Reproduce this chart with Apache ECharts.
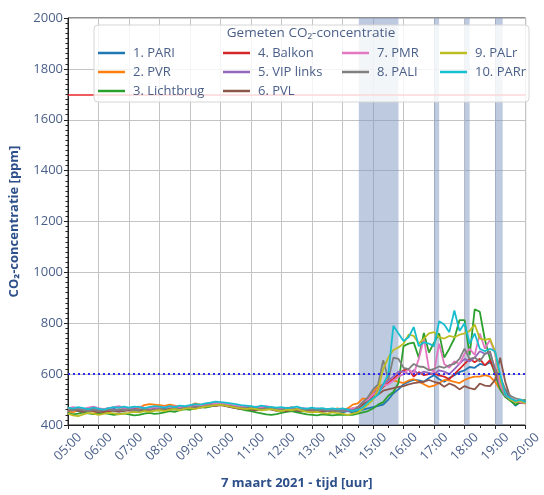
<!DOCTYPE html>
<html>
<head>
<meta charset="utf-8">
<script src="https://cdn.jsdelivr.net/npm/echarts@6/dist/echarts.min.js"></script>
<style>
html,body{margin:0;padding:0;background:#fff;}
#chart{width:544px;height:495px;}
</style>
</head>
<body>
<div id="chart"></div>
<script>
// ---- data (10-minute samples from 05:00 to 20:00) ----
const startMinute = 5 * 60;
const stepMinutes = 10;

const seriesNames = ["1. PARI","2. PVR","3. Lichtbrug","4. Balkon","5. VIP links","6. PVL","7. PMR","8. PALI","9. PALr","10. PARr"];
const seriesColors = ["#1f77b4","#ff7f0e","#2ca02c","#d62728","#9467bd","#8c564b","#e377c2","#7f7f7f","#bcbd22","#17becf"];

const pari = [
 462,458,465,460,455,458, 452,455,460,463,458,460, 462,458,455,460,465,462, 460,465,468,462,470,466,
 468,472,470,475,480,478, 482,478,475,470,472,468, 465,462,468,470,466,460, 458,462,460,455,458,462,
 460,456,452,455,458,454,
 450,455,450,455,460,465, 470,475,480,500,525,540,
 560,570,577,575,570,585, 596,580,570,585,596,608, 615,628,625,640,635,647, 621,560,540,500,476,490, 495];
const pvr = [
 455,450,458,462,457,453, 450,455,452,458,460,462, 465,460,468,478,482,480, 478,475,480,476,472,470,
 475,485,480,478,482,486, 484,480,476,472,468,465, 462,466,470,468,465,460, 462,458,455,460,465,460,
 455,458,460,462,458,465,
 460,465,480,485,505,500, 530,550,560,580,575,570,
 565,575,580,570,560,550, 555,565,577,575,570,565, 577,585,590,590,596,590, 570,540,515,506,495,494, 490];
const lichtbrug = [
 448,442,445,450,446,443, 445,448,444,440,443,446, 442,438,440,445,448,444, 446,450,455,452,458,462,
 460,465,470,468,472,478, 482,476,470,466,462,458, 455,450,446,442,440,443, 448,452,455,450,446,442,
 440,438,442,440,438,440,
 440,440,440,445,450,455, 465,480,490,515,530,565,
 710,720,724,665,762,685, 724,760,665,700,740,812, 812,675,855,845,735,660, 600,540,510,495,480,490, 500];
const balkon = [
 460,465,462,458,460,463, 457,452,455,460,458,456, 460,463,458,455,460,462, 465,460,463,467,462,465,
 470,468,472,475,478,482, 480,476,472,468,470,465, 462,467,470,465,462,460, 463,458,460,462,456,460,
 462,458,455,460,456,458,
 455,460,455,465,480,495, 515,530,550,565,580,600,
 615,620,590,608,596,600, 603,595,590,580,600,620, 640,660,647,660,634,655, 610,560,520,505,495,490, 485];
const vipLinks = [
 458,462,456,460,464,460, 458,462,466,460,458,463, 465,462,460,464,468,466, 462,466,470,468,472,470,
 474,476,472,478,482,485, 484,480,478,474,470,472, 468,465,470,472,468,464, 466,462,460,464,462,458,
 460,462,458,455,460,457,
 460,455,460,470,485,500, 520,540,560,575,590,610,
 610,600,615,600,610,605, 600,615,610,600,620,640, 660,650,665,690,680,685, 620,555,515,500,490,495, 490];
const pvl = [
 456,460,455,452,458,455, 450,454,458,455,452,456, 458,455,460,458,462,460, 458,462,465,460,464,468,
 466,470,468,472,476,474, 478,474,470,466,462,465, 460,458,462,465,460,456, 458,455,460,457,454,458,
 456,460,458,455,452,456,
 455,460,465,470,480,495, 505,520,535,540,545,550,
 553,560,565,568,570,577, 570,565,550,563,555,540, 553,545,540,563,555,553, 577,665,570,506,495,487, 485];
const pmr = [
 465,470,466,462,468,472, 466,462,465,470,474,468, 466,470,472,468,465,470, 468,472,470,474,470,466,
 470,474,478,476,480,484, 486,482,478,475,472,470, 468,472,470,474,470,466, 464,468,465,462,466,464,
 460,465,462,458,462,460,
 455,460,465,470,490,500, 520,530,555,560,575,590,
 600,620,600,660,740,620, 610,720,640,625,650,640, 680,700,675,760,700,735, 680,560,520,505,495,490, 485];
const pali = [
 460,457,462,458,455,460, 455,458,460,456,462,458, 462,458,460,463,460,458, 462,465,460,466,463,467,
 468,472,470,474,478,476, 480,477,474,470,468,466, 470,466,462,464,468,462, 460,464,470,462,458,460,
 462,458,460,456,458,455,
 455,460,455,470,490,510, 540,560,655,580,665,660,
 625,620,640,630,628,615, 621,630,625,635,640,660, 700,660,665,650,680,690, 615,590,540,515,505,500, 495];
const palr = [
 445,438,435,442,448,445, 440,444,448,446,442,445, 448,452,450,455,452,456, 458,455,460,462,458,464,
 466,462,468,472,475,478, 480,476,472,468,465,462, 465,462,458,460,462,458, 455,460,458,462,456,452,
 450,452,448,445,450,447,
 445,440,445,450,465,480, 500,540,620,665,695,705,
 720,755,750,720,740,760, 765,745,740,750,745,755, 760,770,795,740,735,740, 690,580,520,500,490,495, 485];
const parr = [
 468,464,470,466,462,468, 464,460,466,470,468,472, 468,472,470,466,470,474, 472,468,474,470,476,474,
 478,482,480,485,488,492, 490,488,485,482,478,476, 474,470,476,472,470,468, 470,466,468,472,466,464,
 468,464,466,462,465,462,
 465,460,455,460,470,490, 505,520,560,600,790,760,
 730,745,785,710,725,720, 710,808,795,765,850,770, 800,720,760,700,690,700, 690,600,520,505,495,500, 490];

const seriesValues = [pari, pvr, lichtbrug, balkon, vipLinks, pvl, pmr, pali, palr, parr];

// reference lines and shaded periods
const refLines = [1700, 600];
const shadedPeriods = [["14:32","15:50"],["17:00","17:10"],["18:00","18:10"],["19:00","19:15"]];
const yTicks = [400, 2000, 200];

// ---- build ----
function toMin(t){ const p = t.split(":"); return (+p[0]) * 60 + (+p[1]) - startMinute; }
function fmt(m){ const h = Math.floor((m + startMinute) / 60); return (h < 10 ? "0" : "") + h + ":00"; }

const FONT = "Open Sans";
const labelColor = "#4a5f88";
const nameColor = "#2d4f8a";

const series = [{
  type: "line", name: "bands", data: [], z: 1, silent: true,
  markArea: {
    silent: true,
    itemStyle: { color: "rgba(125,150,192,0.5)" },
    data: shadedPeriods.map(p => [{ xAxis: toMin(p[0]) }, { xAxis: toMin(p[1]) }])
  },
  markLine: {
    silent: true, symbol: ["none","none"], label: { show: false },
    data: [
      { yAxis: refLines[0], lineStyle: { color: "#e8262a", width: 1.6, type: "solid" } },
      { yAxis: refLines[1], lineStyle: { color: "#2b2bf0", width: 2, type: [2, 3] } }
    ]
  }
}];
seriesNames.forEach((n, k) => {
  series.push({
    type: "line", name: n, symbol: "none", z: 3,
    lineStyle: { width: 1.8, color: seriesColors[k] },
    itemStyle: { color: seriesColors[k] },
    data: seriesValues[k].map((v, i) => [i * stepMinutes, v])
  });
});

const legendCols = [
  { left: 98, names: seriesNames.slice(0, 3) },
  { left: 223, names: seriesNames.slice(3, 6) },
  { left: 342, names: seriesNames.slice(6, 8) },
  { left: 440, names: seriesNames.slice(8, 10) }
];
const legends = legendCols.map(c => ({
  orient: "vertical", left: c.left, top: 46, padding: 0, z: 20,
  icon: "rect", itemWidth: 27, itemHeight: 2.5, itemGap: 5,
  data: c.names, selectedMode: false,
  textStyle: { fontFamily: FONT, fontSize: 13, lineHeight: 14, color: labelColor, padding: [0, 0, 0, 3] }
}));

const chart = echarts.init(document.getElementById("chart"), null, { renderer: "canvas" });
chart.setOption({
  animation: false,
  backgroundColor: "#fff",
  grid: { left: 68, right: 12, top: 18, bottom: 61, show: true, borderColor: "#222", borderWidth: 1, backgroundColor: "transparent" },
  legend: legends,
  graphic: [
    { type: "rect", z: 15, shape: { x: 94, y: 25, width: 435, height: 77, r: 4 },
      style: { fill: "rgba(255,255,255,0.82)", stroke: "#d6d6d6", lineWidth: 1 } },
    { type: "text", z: 20, x: 311, y: 26,
      style: { text: "Gemeten CO₂-concentratie", align: "center", font: "13.5px '" + FONT + "'", fill: labelColor } }
  ],
  xAxis: {
    type: "value", min: 0, max: 900, interval: 60,
    name: "7 maart 2021 - tijd [uur]", nameLocation: "middle", nameGap: 52,
    nameTextStyle: { fontFamily: FONT, fontSize: 13, fontWeight: "bold", color: nameColor },
    axisLine: { show: true, lineStyle: { color: "#222", width: 1 } },
    axisTick: { show: true, length: 4, lineStyle: { color: "#222" } },
    minorTick: { show: true, splitNumber: 2, length: 3, lineStyle: { color: "#222" } },
    splitLine: { show: true, lineStyle: { color: "#c4c4c4", width: 1 } },
    axisLabel: { formatter: fmt, rotate: 45, align: "center", verticalAlign: "middle", margin: 22,
      fontFamily: FONT, fontSize: 13, color: labelColor }
  },
  yAxis: {
    type: "value", min: yTicks[0], max: yTicks[1], interval: yTicks[2],
    name: "CO₂-concentratie [ppm]", nameLocation: "middle", nameGap: 47,
    nameTextStyle: { fontFamily: FONT, fontSize: 13, fontWeight: "bold", color: nameColor },
    axisLine: { show: true, lineStyle: { color: "#222", width: 1 } },
    axisTick: { show: true, length: 4, lineStyle: { color: "#222" } },
    minorTick: { show: true, splitNumber: 10, length: 2.5, lineStyle: { color: "#222" } },
    splitLine: { show: true, lineStyle: { color: "#c4c4c4", width: 1 } },
    axisLabel: { margin: 5, formatter: v => String(v), fontFamily: FONT, fontSize: 13, color: labelColor }
  },
  series: series
});
</script>
</body>
</html>
